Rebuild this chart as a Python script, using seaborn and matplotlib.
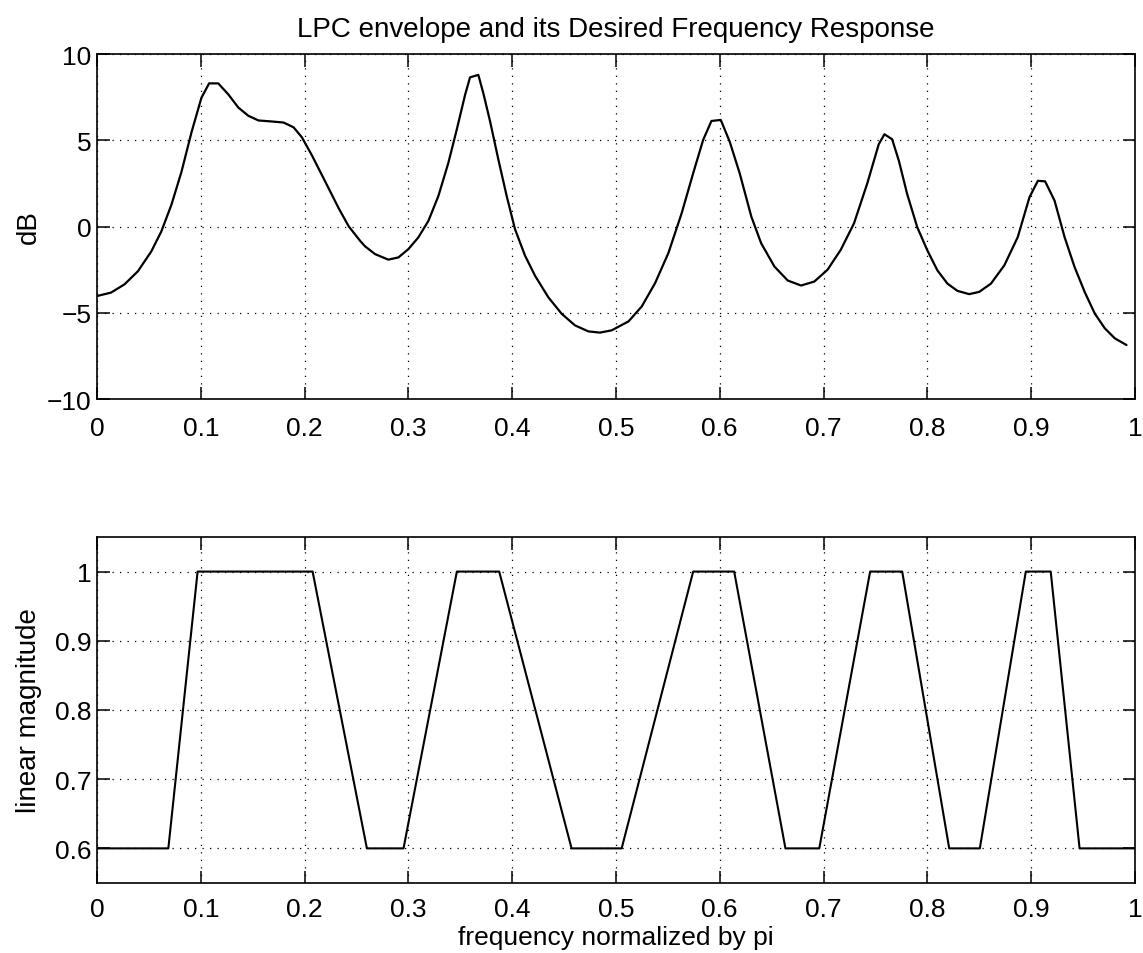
import matplotlib
matplotlib.use("Agg")
import matplotlib.pyplot as plt
import seaborn as sns
import pandas as pd

# ---- data ----
env_freq = [0.0006, 0.0135, 0.0265, 0.0394, 0.0523, 0.0619, 0.0716, 0.0813, 0.0910, 0.1006,
            0.1080, 0.1168, 0.1265, 0.1361, 0.1458, 0.1555, 0.1684, 0.1797, 0.1894, 0.1974,
            0.2071, 0.2200, 0.2329, 0.2426, 0.2539, 0.2583, 0.2679, 0.2807, 0.2904, 0.3000,
            0.3096, 0.3193, 0.3289, 0.3385, 0.3466, 0.3546, 0.3594, 0.3674, 0.3722, 0.3787,
            0.3867, 0.3947, 0.4027, 0.4124, 0.4220, 0.4348, 0.4477, 0.4605, 0.4734, 0.4846,
            0.4958, 0.5121, 0.5249, 0.5377, 0.5505, 0.5633, 0.5744, 0.5840, 0.5920, 0.6010,
            0.6096, 0.6192, 0.6304, 0.6399, 0.6527, 0.6655, 0.6783, 0.6911, 0.7038, 0.7166,
            0.7294, 0.7422, 0.7532, 0.7587, 0.7661, 0.7726, 0.7806, 0.7903, 0.8000, 0.8097,
            0.8194, 0.8290, 0.8403, 0.8500, 0.8613, 0.8742, 0.8871, 0.8984, 0.9065, 0.9135,
            0.9226, 0.9323, 0.9419, 0.9516, 0.9613, 0.9710, 0.9806, 0.9919]
env_db = [-4.02, -3.83, -3.35, -2.59, -1.44, -0.29, 1.25, 3.16, 5.46, 7.47,
          8.30, 8.30, 7.66, 6.90, 6.42, 6.15, 6.09, 6.03, 5.75, 5.17,
          4.12, 2.59, 1.05, 0.00, -0.86, -1.15, -1.60, -1.92, -1.79, -1.31,
          -0.63, 0.33, 1.77, 3.69, 5.62, 7.63, 8.65, 8.79, 7.73, 6.10,
          3.88, 1.77, -0.15, -1.69, -2.85, -4.10, -5.06, -5.73, -6.08, -6.15,
          -6.02, -5.50, -4.63, -3.28, -1.54, 0.77, 3.09, 5.02, 6.12, 6.18,
          4.92, 3.09, 0.58, -0.97, -2.32, -3.13, -3.42, -3.19, -2.51, -1.35,
          0.19, 2.51, 4.77, 5.35, 5.06, 3.81, 1.88, -0.04, -1.38, -2.54,
          -3.31, -3.73, -3.92, -3.79, -3.31, -2.25, -0.62, 1.69, 2.65, 2.62,
          1.50, -0.62, -2.35, -3.79, -5.04, -5.90, -6.48, -6.87]

des_freq = [0.000, 0.0687, 0.0969, 0.2077, 0.2600, 0.2953, 0.3467, 0.3875,
            0.4572, 0.5055, 0.5744, 0.6139, 0.6633, 0.6959, 0.7449, 0.7758,
            0.8211, 0.8506, 0.8949, 0.9189, 0.9467, 1.000]
des_mag = [0.6, 0.6, 1.0, 1.0, 0.6, 0.6, 1.0, 1.0,
           0.6, 0.6, 1.0, 1.0, 0.6, 0.6, 1.0, 1.0,
           0.6, 0.6, 1.0, 1.0, 0.6, 0.6]

x_ticks = [0, 0.1, 0.2, 0.3, 0.4, 0.5, 0.6, 0.7, 0.8, 0.9, 1]
x_ticklabels = ["0", "0.1", "0.2", "0.3", "0.4", "0.5", "0.6", "0.7", "0.8", "0.9", "1"]
db_ticks = [-10, -5, 0, 5, 10]
db_ticklabels = ["\u221210", "\u22125", "0", "5", "10"]
mag_ticks = [0.6, 0.7, 0.8, 0.9, 1.0]
mag_ticklabels = ["0.6", "0.7", "0.8", "0.9", "1"]

title = "LPC envelope and its Desired Frequency Response"
top_ylabel = "dB"
bot_ylabel = "linear magnitude"
bot_xlabel = "frequency normalized by pi"

# ---- plotting ----
sns.set_theme(style="white")
plt.rcParams["font.family"] = ["Liberation Sans", "DejaVu Sans"]
plt.rcParams["axes.edgecolor"] = "black"
plt.rcParams["axes.linewidth"] = 1.2
plt.rcParams["text.color"] = "black"
plt.rcParams["axes.labelcolor"] = "black"
plt.rcParams["xtick.color"] = "black"
plt.rcParams["ytick.color"] = "black"

fig = plt.figure(figsize=(11.43, 9.54), dpi=100)
ax1 = fig.add_axes([0.0849, 0.5807, 0.908, 0.3616])
ax2 = fig.add_axes([0.0849, 0.0734, 0.908, 0.3627])

df_env = pd.DataFrame({"f": env_freq, "db": env_db})
df_des = pd.DataFrame({"f": des_freq, "mag": des_mag})

sns.lineplot(data=df_env, x="f", y="db", ax=ax1, color="black", lw=1.6,
             estimator=None, sort=False)
sns.lineplot(data=df_des, x="f", y="mag", ax=ax2, color="black", lw=1.5,
             estimator=None, sort=False)

tick_fs = 19
label_fs = 20
for ax in (ax1, ax2):
    ax.set_xlim(0, 1)
    ax.set_xticks(x_ticks)
    ax.set_xticklabels(x_ticklabels, fontsize=tick_fs)
    ax.grid(True, color="black", linestyle=(0, (1, 5)), linewidth=0.9)
    ax.tick_params(direction="in", length=9, width=1.1, top=True, right=True,
                   bottom=True, left=True, colors="black", labelsize=tick_fs)
    for s in ax.spines.values():
        s.set_color("black")
        s.set_linewidth(1.2)

ax1.set_ylim(-10, 10)
ax1.set_yticks(db_ticks)
ax1.set_yticklabels(db_ticklabels, fontsize=tick_fs)
ax1.set_xlabel("")
ax1.set_ylabel(top_ylabel, fontsize=label_fs, color="black")
ax1.yaxis.set_label_coords(-0.053, 0.5)
ax1.set_title(title, fontsize=label_fs, pad=13, color="black")
ax1.tick_params(axis="x", pad=12)
ax1.tick_params(axis="y", pad=4)

ax2.set_ylim(0.55, 1.05)
ax2.set_yticks(mag_ticks)
ax2.set_yticklabels(mag_ticklabels, fontsize=tick_fs)
ax2.set_ylabel(bot_ylabel, fontsize=label_fs, color="black")
ax2.yaxis.set_label_coords(-0.053, 0.5)
ax2.set_xlabel(bot_xlabel, fontsize=19, labelpad=3, color="black")
ax2.tick_params(axis="x", pad=10)
ax2.tick_params(axis="y", pad=4)

fig.savefig("out.png", dpi=100, facecolor="white")
